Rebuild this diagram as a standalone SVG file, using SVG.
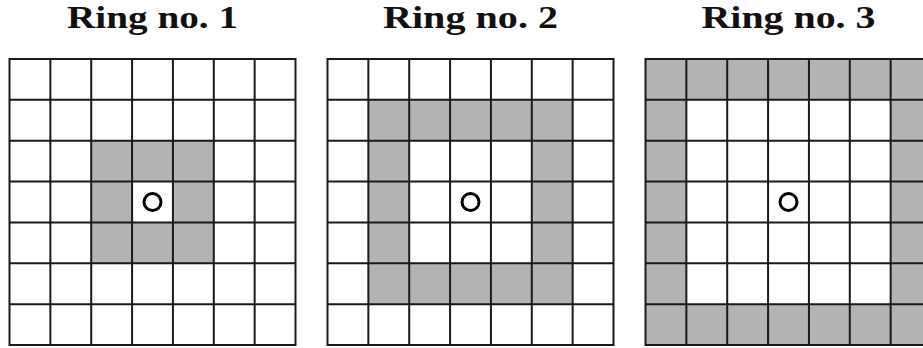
<svg xmlns="http://www.w3.org/2000/svg" width="923" height="348" viewBox="0 0 923 348">
  <style>
    .title { font-family: "Liberation Serif", "Times New Roman", serif; font-weight: bold; font-size: 31px; fill: #111; text-anchor: middle; }
    .ring { fill: #b3b3b3; fill-rule: evenodd; stroke: none; }
    .grid { fill: none; stroke: #1a1a1a; stroke-width: 2; stroke-linecap: square; }
    .origin { fill: none; stroke: #000; stroke-width: 3; }
  </style>
  <defs>
    <path id="gridlines" class="grid" d="M0 0H286 M0 40.857H286 M0 81.714H286 M0 122.571H286 M0 163.429H286 M0 204.286H286 M0 245.143H286 M0 286H286 M0 0V286 M40.857 0V286 M81.714 0V286 M122.571 0V286 M163.429 0V286 M204.286 0V286 M245.143 0V286 M286 0V286"/>
  </defs>
  <rect width="923" height="348" fill="#fff"/>

  <g id="ring1" transform="translate(9.5,59)">
    <text class="title" x="143" y="-31" textLength="171" lengthAdjust="spacingAndGlyphs">Ring no. 1</text>
    <path class="ring" d="M81.714 81.714H204.286V204.286H81.714Z M122.571 122.571V163.429H163.429V122.571Z"/>
    <use href="#gridlines"/>
    <circle class="origin" cx="143" cy="143" r="8.5"/>
  </g>

  <g id="ring2" transform="translate(327.5,59)">
    <text class="title" x="143" y="-31" textLength="175" lengthAdjust="spacingAndGlyphs">Ring no. 2</text>
    <path class="ring" d="M40.857 40.857H245.143V245.143H40.857Z M81.714 81.714V204.286H204.286V81.714Z"/>
    <use href="#gridlines"/>
    <circle class="origin" cx="143" cy="143" r="8.5"/>
  </g>

  <g id="ring3" transform="translate(645.5,59)">
    <text class="title" x="143" y="-31" textLength="174" lengthAdjust="spacingAndGlyphs">Ring no. 3</text>
    <path class="ring" d="M0 0H286V286H0Z M40.857 40.857V245.143H245.143V40.857Z"/>
    <use href="#gridlines"/>
    <circle class="origin" cx="143" cy="143" r="8.5"/>
  </g>

  <g id="connectors"/>
</svg>
